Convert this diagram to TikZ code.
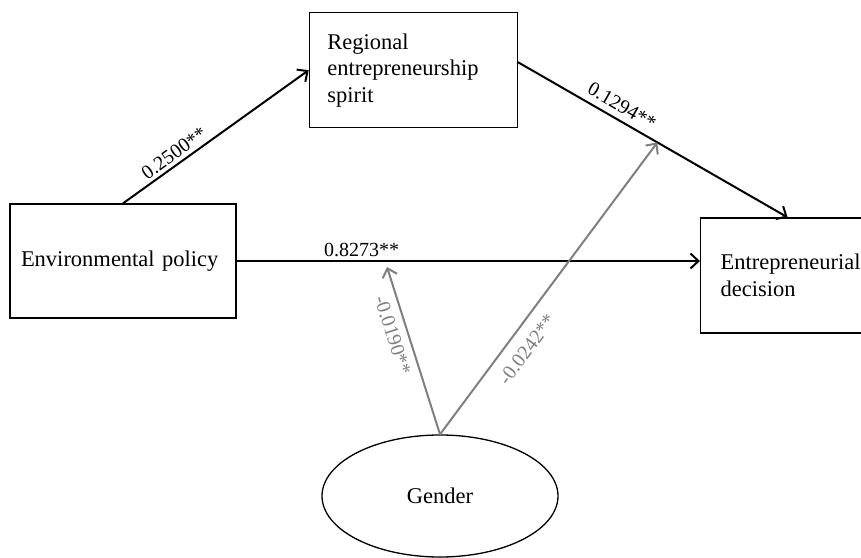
\documentclass[tikz,border=0pt]{standalone}
\usepackage{fontspec}
\setmainfont{Liberation Serif}
\usepackage{xcolor}
\usepackage{tikz}
\usetikzlibrary{positioning,arrows.meta,shapes.geometric,calc}
\definecolor{ink}{HTML}{000000}
\definecolor{modgrey}{HTML}{7F7F7F}
\newcommand\boxfont{\fontsize{22.5}{26.5}\selectfont}
\newcommand\coeffont{\fontsize{20}{24}\selectfont}
\tikzset{
  box/.style={draw=ink, rectangle, line width=1.3pt, minimum height=114pt,
              align=left, font=\boxfont},
  oval/.style={draw=ink, ellipse, line width=1.3pt, minimum width=236pt,
               minimum height=122pt, font=\boxfont},
  eff/.style={-{Straight Barb[length=8pt,width=15pt]}, line width=2pt, color=ink},
  mod/.style={eff, color=modgrey},
  coef/.style={font=\coeffont, sloped},
  mcoef/.style={coef, text=modgrey},
}

\begin{document}
\begin{tikzpicture}[x=1pt,y=1pt]
\useasboundingbox (0,0) rectangle (861,557);
% --- constructs ---
\node[box, text width=204pt, inner xsep=11pt] (env) at (123,296) {Environmental policy};
\node[box, text width=172pt, inner xsep=18pt, minimum height=115pt] (reg)
     [above right=75pt and 72pt of env] {Regional\\entrepreneurship\\spirit};
\node[box, text width=150pt, inner xsep=20pt, minimum height=115pt] (dec)
     [below right=89pt and 182pt of reg] {Entrepreneurial\\decision};
\node[oval] (gen) at (440,61) {Gender};

% --- direct and mediated paths ---
\draw[eff] (env.north) -- node[coef, above, pos=0.31] {0.2500**} (reg.west);
\draw[eff] ([yshift=8pt]reg.east) coordinate (rout)
   -- node[coef, above=3pt, pos=0.36] {0.1294**} ([xshift=-8pt]dec.north) coordinate (din);
\draw[eff] (env.east) -- node[coef, above, pos=0.27] {0.8273**} (env.east -| dec.west);

% --- moderation by gender ---
\coordinate (hit) at ($(rout)!0.517!(din)$);
\coordinate (low) at (387,290);
\draw[mod] (gen.north) -- node[mcoef, below=4pt, pos=0.62] {-0.0190**} (low);
\draw[mod] (gen.north) -- node[mcoef, below=8pt, pos=0.33] {-0.0242**} (hit);
\end{tikzpicture}
\end{document}
